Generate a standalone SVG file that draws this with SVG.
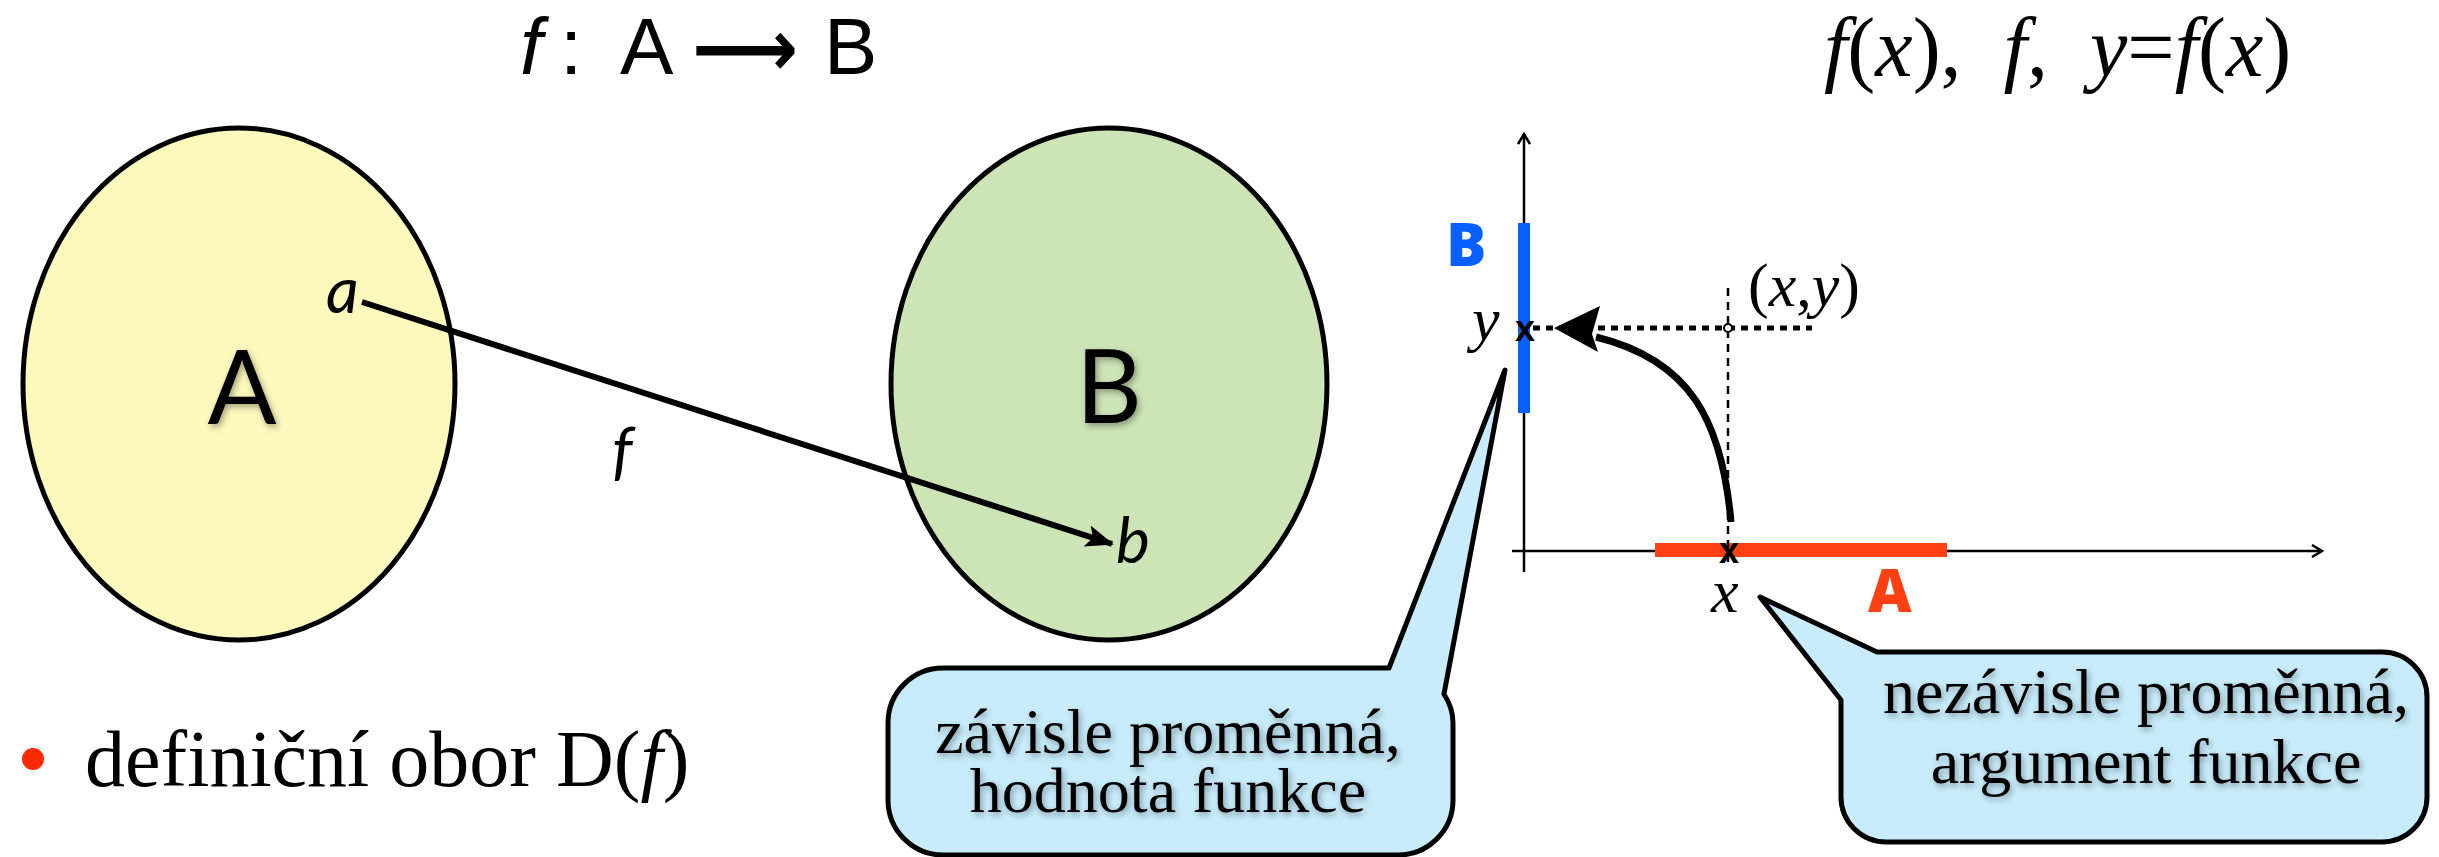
<svg xmlns="http://www.w3.org/2000/svg" width="2439" height="857" viewBox="0 0 2439 857">
  <defs>
    <filter id="shadow" x="-20%" y="-20%" width="140%" height="140%">
      <feDropShadow dx="2" dy="3" stdDeviation="3" flood-color="#000" flood-opacity="0.35"/>
    </filter>
    <marker id="arrowBig" markerWidth="30" markerHeight="24" refX="26" refY="12" orient="auto" markerUnits="userSpaceOnUse" viewBox="0 0 30 24">
      <path d="M0,1 L28,12 L0,23 L6,12 Z" fill="#000"/>
    </marker>
    <marker id="axisHead" markerWidth="14" markerHeight="14" refX="12" refY="7" orient="auto" markerUnits="userSpaceOnUse" viewBox="0 0 14 14">
      <path d="M2,1 L12,7 L2,13" fill="none" stroke="#000" stroke-width="2.5"/>
    </marker>
  </defs>
  <style>
    .set { stroke:#000; stroke-width:5; }
    .setlabel { font-family: Lato, "Open Sans", sans-serif; font-size:102px; fill:#000; }
    .ital { font-family: Lato, "Open Sans", sans-serif; font-style:italic; font-size:64px; fill:#000; }
    .serif { font-family: "Liberation Serif", serif; fill:#000; }
    .it { font-style:italic; }
    .callout { fill:#C8ECFB; stroke:#000; stroke-width:5; stroke-linejoin:round; }
    .ctext { font-family: "Liberation Serif", serif; font-size:64px; fill:#000; text-anchor:middle; }
    .axis { stroke:#000; stroke-width:2.5; fill:none; }
    .mark { font-family: "Liberation Sans", sans-serif; font-weight:bold; font-size:36px; fill:#000; text-anchor:middle; }
    .big { font-family: "Open Sans", "Liberation Sans", sans-serif; font-weight:800; font-size:60px; }
  </style>

  <g id="title">
    <text y="74" font-family="Liberation Sans, sans-serif" font-size="80" fill="#000"><tspan x="520" font-style="italic">f</tspan><tspan x="560">:</tspan><tspan x="620">A</tspan><tspan x="824">B</tspan></text>
    <text x="692" y="76" font-family="DejaVu Sans, sans-serif" font-weight="bold" font-size="80" textLength="106" lengthAdjust="spacingAndGlyphs" fill="#000">⟶</text>
  </g>

  <g id="notation">
    <text x="1824" y="76" class="serif" font-size="84" xml:space="preserve"><tspan class="it">f</tspan>(<tspan class="it">x</tspan>),  <tspan class="it">f</tspan>,  <tspan class="it">y</tspan>=<tspan class="it">f</tspan>(<tspan class="it">x</tspan>)</text>
  </g>

  <g id="setA">
    <ellipse cx="239" cy="384" rx="216" ry="256" fill="#FDF8BC" class="set"/>
    <text x="242" y="424" class="setlabel" text-anchor="middle" filter="url(#shadow)">A</text>
    <text x="326" y="313" class="ital">a</text>
  </g>

  <g id="setB">
    <ellipse cx="1109" cy="384" rx="218" ry="256" fill="#CCE4B6" class="set"/>
    <text x="1109" y="423" class="setlabel" text-anchor="middle" filter="url(#shadow)">B</text>
    <text x="1116" y="563" class="ital">b</text>
  </g>

  <g id="connectors">
    <line x1="362" y1="302" x2="1112" y2="544" stroke="#000" stroke-width="6" marker-end="url(#arrowBig)"/>
    <text x="612" y="473" class="ital">f</text>
  </g>

  <g id="domain">
    <circle cx="33" cy="759" r="11" fill="#FF2A00"/>
    <text x="85" y="786" class="serif" font-size="80">definiční obor D(<tspan class="it">f</tspan>)</text>
  </g>

  <g id="graph">
    <line x1="1524" y1="572" x2="1524" y2="134" class="axis" marker-end="url(#axisHead)"/>
    <line x1="1512" y1="551" x2="2322" y2="551" class="axis" marker-end="url(#axisHead)"/>
    <rect x="1518" y="223" width="12" height="190" fill="#0A5FFF"/>
    <rect x="1655" y="543" width="292" height="14" fill="#FF4013"/>
    <text x="1446" y="266" class="big" fill="#0A5FFF">B</text>
    <text x="1868" y="612" class="big" fill="#FF4013">A</text>
    <line x1="1728" y1="288" x2="1728" y2="566" stroke="#000" stroke-width="2.5" stroke-dasharray="8 6"/>
    <line x1="1533" y1="328" x2="1812" y2="328" stroke="#000" stroke-width="5" stroke-dasharray="7 6"/>
    <circle cx="1728" cy="328" r="4" fill="#fff" stroke="#000" stroke-width="2"/>
    <text x="1525" y="341" class="mark">x</text>
    <text x="1729" y="563" class="mark">x</text>
    <path d="M1731,522 C1722,420 1690,360 1596,337" fill="none" stroke="#000" stroke-width="7"/>
    <polygon points="1554,328 1600,306 1592,334 1598,352" fill="#000"/>
    <text x="1472" y="340" class="serif it" font-size="62">y</text>
    <text x="1748" y="306" class="serif" font-size="62">(<tspan class="it">x</tspan>,<tspan class="it">y</tspan>)</text>
    <text x="1711" y="612" class="serif it" font-size="62">x</text>
  </g>

  <g id="callout-dependent">
    <path class="callout" d="M943,668 L1389,668 L1505,370 L1444,694 Q1453,708 1453,723 L1453,800 A55,55 0 0 1 1398,855 L943,855 A55,55 0 0 1 888,800 L888,723 A55,55 0 0 1 943,668 Z"/>
    <g filter="url(#shadow)">
      <text x="1168" y="753" class="ctext">závisle proměnná,</text>
      <text x="1168" y="812" class="ctext">hodnota funkce</text>
    </g>
  </g>

  <g id="callout-independent">
    <path class="callout" d="M1877,652 L2382,652 A45,45 0 0 1 2427,697 L2427,797 A45,45 0 0 1 2382,842 L1886,842 A45,45 0 0 1 1841,797 L1841,700 L1760,597 Z"/>
    <g filter="url(#shadow)">
      <text x="2146" y="713" class="ctext">nezávisle proměnná,</text>
      <text x="2146" y="783" class="ctext">argument funkce</text>
    </g>
  </g>
</svg>
